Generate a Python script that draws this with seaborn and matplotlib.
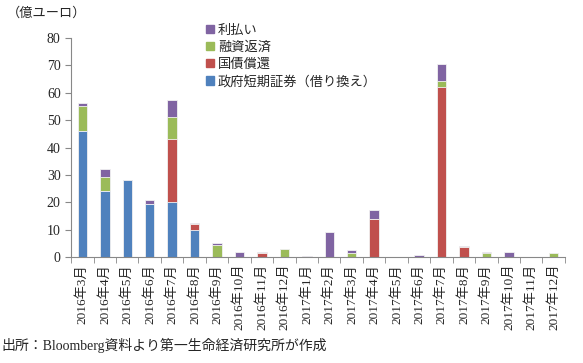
"""Stacked monthly bars: Greek redemption / interest schedule (億ユーロ)."""

import matplotlib.pyplot as plt
import matplotlib.patches as mpatches
import numpy as np
import pandas as pd
import seaborn as sns

MONTHS = [
    "2016年3月", "2016年4月", "2016年5月", "2016年6月", "2016年7月", "2016年8月",
    "2016年9月", "2016年10月", "2016年11月", "2016年12月", "2017年1月", "2017年2月",
    "2017年3月", "2017年4月", "2017年5月", "2017年6月", "2017年7月", "2017年8月",
    "2017年9月", "2017年10月", "2017年11月", "2017年12月",
]
# stacking order bottom -> top
TBILLS = [46, 24, 28, 19.5, 20, 10, 0, 0, 0, 0, 0, 0, 0, 0, 0, 0, 0, 0, 0, 0, 0, 0]
BONDS = [0.2, 0.3, 0.3, 0, 23, 2.2, 0, 0, 1.5, 0, 0, 0, 0, 14, 0, 0, 62, 3.5, 0, 0, 0, 0]
LOANS = [9, 5, 0, 0, 8, 0, 4.5, 0, 0, 3, 0, 0, 1.5, 0, 0, 0, 2.5, 0, 1.5, 0, 0, 1.5]
INTEREST = [1, 3, 0, 1.3, 6.5, 0.3, 0.5, 2, 0.5, 0, 0.4, 9, 1, 3, 0, 0.8, 6, 0.5, 0.5, 2, 0, 0]

SERIES = ["政府短期証券（借り換え）", "国債償還", "融資返済", "利払い"]
COLORS = ["#4F81BD", "#C0504D", "#9BBB59", "#8064A2"]

FONT = ["Liberation Serif", "Noto Sans CJK JP"]


def main() -> None:
    sns.set_style("white")
    plt.rcParams["font.family"] = FONT

    layers = np.cumsum(np.array([TBILLS, BONDS, LOANS, INTEREST]), axis=0)

    fig = plt.figure(figsize=(5.83, 3.63), dpi=100)
    ax = fig.add_axes([0.122, 0.292, 0.847, 0.603])

    # draw cumulative totals from the top layer down so each series shows
    for i in range(3, -1, -1):
        df = pd.DataFrame({"month": MONTHS, "value": layers[i]})
        sns.barplot(
            data=df, x="month", y="value", order=MONTHS, color=COLORS[i],
            saturation=1, width=0.42, edgecolor="#f2f2f2", linewidth=0.6, ax=ax,
        )

    ax.set_ylim(0, 80)
    ax.set_xlim(-0.5, len(MONTHS) - 0.5)
    ax.set_yticks(range(0, 81, 10))
    ax.set_xlabel("")
    ax.set_ylabel("")
    ax.tick_params(axis="y", labelsize=10, length=4, direction="out", color="#888888", left=True)
    ax.tick_params(axis="x", labelsize=9.5, rotation=90, length=0, pad=5)

    # category-boundary ticks on the x axis
    ax.set_xticks(np.arange(-0.5, len(MONTHS)), minor=True)
    ax.tick_params(axis="x", which="minor", length=4, color="#888888", bottom=True)

    for side in ("top", "right"):
        ax.spines[side].set_visible(False)
    for side in ("left", "bottom"):
        ax.spines[side].set_color("#888888")
        ax.spines[side].set_linewidth(0.8)

    handles = [mpatches.Patch(color=c, label=s) for s, c in zip(SERIES, COLORS)]
    fig.legend(
        handles=handles[::-1], loc="upper left", bbox_to_anchor=(0.333, 0.965),
        frameon=False, fontsize=9.5, handlelength=0.6, handleheight=0.6,
        handletextpad=0.3, labelspacing=0.35,
    )

    fig.text(0.012, 0.955, "（億ユーロ）", fontsize=9.5)
    fig.text(0.003, 0.035, "出所：Bloomberg資料より第一生命経済研究所が作成", fontsize=10)

    fig.savefig("out.png", dpi=100)
    plt.close(fig)


if __name__ == "__main__":
    main()
